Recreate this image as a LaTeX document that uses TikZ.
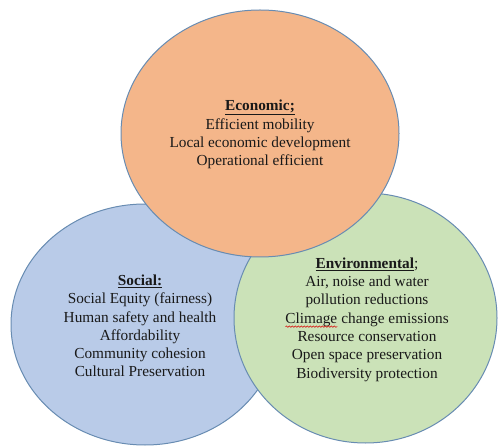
\documentclass[tikz,border=0pt]{standalone}
\usepackage{fontspec}
\setmainfont{Liberation Serif}
\usetikzlibrary{shapes.geometric,decorations.pathmorphing}
\definecolor{ecofill}{RGB}{244,182,138}
\definecolor{socfill}{RGB}{185,203,232}
\definecolor{envfill}{RGB}{203,226,184}
\definecolor{edge}{RGB}{104,140,178}
\definecolor{txt}{RGB}{25,25,25}
\newcommand\redwave[1]{\tikz[baseline=(wv.base)]{\node[inner sep=0pt,outer sep=0pt](wv){#1};
  \draw[red!85!black, line width=0.5pt, decorate, decoration={snake, amplitude=0.7pt, segment length=3pt}] ([yshift=-3.5pt]wv.base west) -- ([yshift=-3.5pt]wv.base east);}}
\tikzset{
  blob/.style={ellipse, draw=edge, line width=1pt, inner sep=0pt},
  label/.style={align=center, text=txt, font=\fontsize{15.3}{18.3}\selectfont, inner sep=0pt}
}
\begin{document}
\begin{tikzpicture}[x=1pt,y=-1pt]
\useasboundingbox (0,0) rectangle (498,446);
\node[blob, fill=socfill, minimum width=268pt, minimum height=241pt] (soc) at (145,324.5) {};
\node[blob, fill=envfill, minimum width=263pt, minimum height=250pt] (env) at (365.5,318) {};
\node[blob, fill=ecofill, minimum width=278pt, minimum height=247pt] (eco) at (260,133.5) {};
\node[label] (ecotext) at (260,134.5) {\underline{\textbf{Economic;}}\\Efficient mobility\\Local economic development\\Operational efficient};
\node[label] (soctext) at (140,326) {\underline{\textbf{Social:}}\\Social Equity (fairness)\\Human safety and health\\Affordability\\Community cohesion\\Cultural Preservation};
\node[label] (envtext) at (367,319.5) {\underline{\textbf{Environmental}};\\Air, noise and water\\pollution reductions\\\redwave{Climage} change emissions\\Resource conservation\\Open space preservation\\Biodiversity protection};
\end{tikzpicture}
\end{document}
